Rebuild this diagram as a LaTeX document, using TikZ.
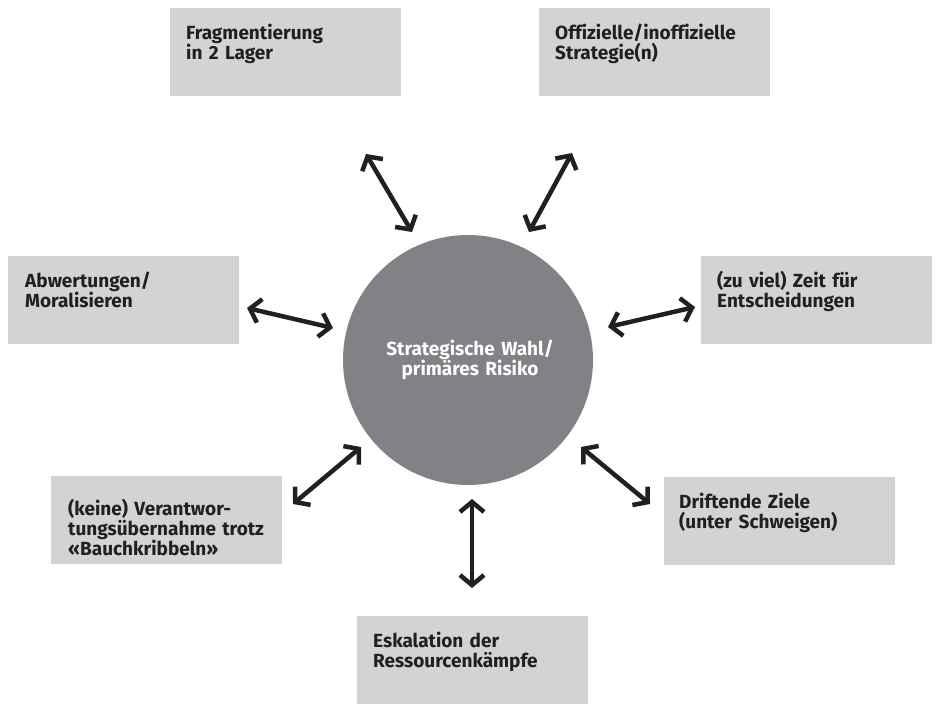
\documentclass[tikz,border=0pt]{standalone}
\usepackage{fontspec}
\setmainfont[Ligatures=NoCommon]{Fira Sans}
\usetikzlibrary{arrows.meta}
\definecolor{boxgray}{HTML}{D1D3D4}
\definecolor{circgray}{HTML}{808285}
\definecolor{ink}{HTML}{231F20}
\begin{document}
\begin{tikzpicture}[x=1pt,y=-1pt,
 box/.style={fill=boxgray, draw=none, anchor=north west, minimum width=231pt, minimum height=88pt, inner sep=0},
 btext/.style={anchor=base west, inner sep=0, text width=225pt, align=left, font=\bfseries\fontsize{19}{20}\selectfont, text=ink},
 ctext/.style={anchor=base, inner sep=0, text width=225pt, align=center, font=\bfseries\fontsize{19}{20}\selectfont, text=white},
 dbl/.style={draw=ink, line width=4.5pt, {Straight Barb[length=10pt,width=24pt]}-{Straight Barb[length=10pt,width=24pt]}}]
\useasboundingbox (0,0) rectangle (936,704);
% boxes
\node[box] (b1) at (170,8) {};
\node[box] (b2) at (539,8) {};
\node[box] (b3) at (8,256) {};
\node[box] (b4) at (701,256) {};
\node[box] (b5) at (51,476) {};
\node[box] (b6) at (664,477) {};
\node[box] (b7) at (357,616) {};
\node[btext] (t1) at ([xshift=16pt,yshift=-31pt]b1.north west) {Fragmentierung\\in 2 Lager};
\node[btext] (t2) at ([xshift=16pt,yshift=-31pt]b2.north west) {Offizielle/inoffizielle\\Strategie(n)};
\node[btext] (t3) at ([xshift=17pt,yshift=-31pt]b3.north west) {Abwertungen/\\Moralisieren};
\node[btext] (t4) at ([xshift=16pt,yshift=-31pt]b4.north west) {(zu viel) Zeit für\\Entscheidungen};
\node[btext] (t5) at ([xshift=17pt,yshift=-39pt]b5.north west) {(keine) Verantwor-\\tungsübernahme trotz\\«Bauchkribbeln»};
\node[btext] (t6) at ([xshift=15pt,yshift=-31pt]b6.north west) {Driftende Ziele\\(unter Schweigen)};
\node[btext] (t7) at ([xshift=16pt,yshift=-31pt]b7.north west) {Eskalation der\\Ressourcenkämpfe};
% circle
\node[circle, fill=circgray, minimum size=250pt, inner sep=0] (c) at (468,360) {};
\node[ctext] (ct) at (470,355) {Strategische Wahl/\\primäres Risiko};
% arrow end points
\coordinate (a1o) at (366,154); \coordinate (a1i) at (412,232);
\coordinate (a2o) at (572,153); \coordinate (a2i) at (529,232);
\coordinate (a3o) at (247,308); \coordinate (a3i) at (333,328);
\coordinate (a4o) at (695,307); \coordinate (a4i) at (608,327);
\coordinate (a5o) at (293,504); \coordinate (a5i) at (361,447);
\coordinate (a6o) at (650,504); \coordinate (a6i) at (581,447);
\coordinate (a7o) at (472,588); \coordinate (a7i) at (472,499);
\draw[dbl] (a1o) -- (a1i);
\draw[dbl] (a2o) -- (a2i);
\draw[dbl] (a3o) -- (a3i);
\draw[dbl] (a4o) -- (a4i);
\draw[dbl] (a5o) -- (a5i);
\draw[dbl] (a6o) -- (a6i);
\draw[dbl] (a7o) -- (a7i);
\end{tikzpicture}
\end{document}
